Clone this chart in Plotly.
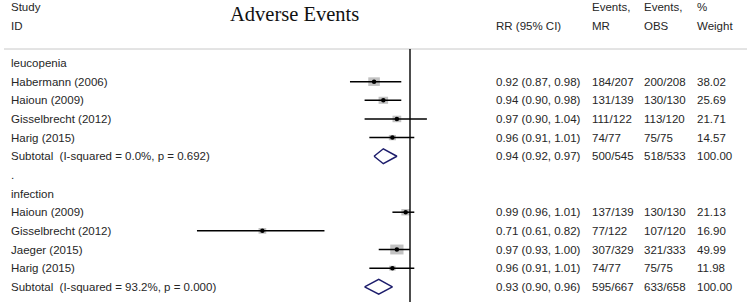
import numpy as np
import plotly.graph_objects as go

# ---------------- data ----------------
groups = ["leucopenia", "infection"]

leu_studies = ["Habermann (2006)", "Haioun (2009)", "Gisselbrecht (2012)", "Harig (2015)"]
leu_rr = [0.92, 0.94, 0.97, 0.96]
leu_lo = [0.87, 0.90, 0.90, 0.91]
leu_hi = [0.98, 0.98, 1.04, 1.01]
leu_mr = ["184/207", "131/139", "111/122", "74/77"]
leu_obs = ["200/208", "130/130", "113/120", "75/75"]
leu_w = [38.02, 25.69, 21.71, 14.57]
leu_sub = [0.94, 0.92, 0.97]
leu_sub_mr = "500/545"
leu_sub_obs = "518/533"
leu_het = "I-squared = 0.0%, p = 0.692"

inf_studies = ["Haioun (2009)", "Gisselbrecht (2012)", "Jaeger (2015)", "Harig (2015)"]
inf_rr = [0.99, 0.71, 0.97, 0.96]
inf_lo = [0.96, 0.61, 0.93, 0.91]
inf_hi = [1.01, 0.82, 1.00, 1.01]
inf_mr = ["137/139", "77/122", "307/329", "74/77"]
inf_obs = ["130/130", "107/120", "321/333", "75/75"]
inf_w = [21.13, 16.90, 49.99, 11.98]
inf_sub = [0.93, 0.90, 0.96]
inf_sub_mr = "595/667"
inf_sub_obs = "633/658"
inf_het = "I-squared = 93.2%, p = 0.000"

title = "Adverse Events"
headers_top = ["Study", "Events,", "Events,", "%"]
headers_bot = ["ID", "RR (95% CI)", "MR", "OBS", "Weight"]

# ---------------- layout constants ----------------
W, H = 750, 306
X0PX = 410.0          # pixel of RR = 1
PX_PER_LN = 431.0     # pixels per ln unit
ROW0PX = 63.0         # pixel of first row
ROWPX = 18.65         # row spacing
TXT = "#262626"
FONT = "Liberation Sans"
FS = 11.5
COL_STUDY, COL_RR, COL_MR, COL_OBS, COL_W = 9, 494, 590, 642, 695

xr = [-X0PX / PX_PER_LN, (W - X0PX) / PX_PER_LN]
yr = [(H - ROW0PX) / ROWPX, (0 - ROW0PX) / ROWPX]

fig = go.Figure()
annotations = []
shapes = []


def txt(xpx, row, s, **kw):
    d = dict(x=xpx / W, xref="paper", y=row, yref="y", text=s, showarrow=False,
             xanchor="left", yanchor="middle",
             font=dict(family=FONT, size=FS, color=TXT))
    d.update(kw)
    annotations.append(d)


def fmt(r, l, h):
    return f"{r:.2f} ({l:.2f}, {h:.2f})"


def block(start, name, studies, rr, lo, hi, mr, obs, w, sub, smr, sobs, het):
    txt(COL_STUDY, start, name)
    rows = [start + 1 + i for i in range(len(studies))]
    cx, cy = [], []
    for i, r in enumerate(rows):
        txt(COL_STUDY, r, studies[i])
        txt(COL_RR, r, fmt(rr[i], lo[i], hi[i]))
        txt(COL_MR, r, mr[i])
        txt(COL_OBS, r, obs[i])
        txt(COL_W, r, f"{w[i]:.2f}")
        cx += [np.log(lo[i]), np.log(hi[i]), None]
        cy += [r, r, None]
        s = np.sqrt(w[i])
        shapes.append(dict(type="rect", xref="x", yref="y", xsizemode="pixel", ysizemode="pixel",
                           xanchor=np.log(rr[i]), yanchor=r,
                           x0=-0.94 * s, x1=0.94 * s, y0=-0.7 * s, y1=0.7 * s,
                           fillcolor="#c2c2c2", line=dict(width=0), layer="below"))
    fig.add_trace(go.Scatter(x=cx, y=cy, mode="lines", line=dict(color="black", width=1.5),
                             hoverinfo="skip", showlegend=False))
    fig.add_trace(go.Scatter(x=np.log(rr), y=rows, mode="markers",
                             marker=dict(symbol="circle", size=4.5, color="black"),
                             showlegend=False))
    sr = start + 1 + len(studies)
    txt(COL_STUDY, sr, "Subtotal\u00a0 (" + het + ")")
    txt(COL_RR, sr, fmt(*sub))
    txt(COL_MR, sr, smr)
    txt(COL_OBS, sr, sobs)
    txt(COL_W, sr, "100.00")
    e, l, h = np.log(sub[0]), np.log(sub[1]), np.log(sub[2])
    fig.add_trace(go.Scatter(x=[l, e, h, e, l], y=[sr, sr - 0.4, sr, sr + 0.4, sr],
                             mode="lines", line=dict(color="#1c1c6b", width=1.5),
                             fill="toself", fillcolor="white", showlegend=False))
    return sr


end1 = block(0, groups[0], leu_studies, leu_rr, leu_lo, leu_hi, leu_mr, leu_obs, leu_w,
             leu_sub, leu_sub_mr, leu_sub_obs, leu_het)
txt(COL_STUDY, end1 + 1, ".")
end2 = block(end1 + 2, groups[1], inf_studies, inf_rr, inf_lo, inf_hi, inf_mr, inf_obs, inf_w,
             inf_sub, inf_sub_mr, inf_sub_obs, inf_het)

# headers
txt(COL_STUDY, -3, headers_top[0])
txt(COL_MR, -3, headers_top[1])
txt(COL_OBS, -3, headers_top[2])
txt(COL_W, -3, headers_top[3])
txt(COL_STUDY, -2, headers_bot[0])
txt(COL_RR, -2, headers_bot[1])
txt(COL_MR, -2, headers_bot[2])
txt(COL_OBS, -2, headers_bot[3])
txt(COL_W, -2, headers_bot[4])
annotations.append(dict(x=294 / W, xref="paper", y=1 - 14 / H, yref="paper",
                        text=title, showarrow=False, xanchor="center", yanchor="middle",
                        font=dict(family="Liberation Serif", size=20.5, color="#111")))

# reference lines
shapes.append(dict(type="line", xref="paper", yref="y", x0=4 / W, x1=747 / W,
                   y0=-0.75, y1=-0.75, line=dict(color="#c8c8c8", width=1)))
shapes.append(dict(type="line", xref="x", yref="y", x0=0, x1=0, y0=-0.75, y1=end2 + 0.82,
                   line=dict(color="black", width=1.4)))

fig.update_layout(
    width=W, height=H, margin=dict(l=0, r=0, t=0, b=0),
    paper_bgcolor="white", plot_bgcolor="white",
    xaxis=dict(range=xr, visible=False, fixedrange=True),
    yaxis=dict(range=yr, visible=False, fixedrange=True),
    annotations=annotations, shapes=shapes, showlegend=False,
    hovermode=False,
)
fig.write_html("out.html", config={"displayModeBar": False, "staticPlot": True},
               post_script="document.body.style.margin='0';document.body.style.overflow='hidden';")
